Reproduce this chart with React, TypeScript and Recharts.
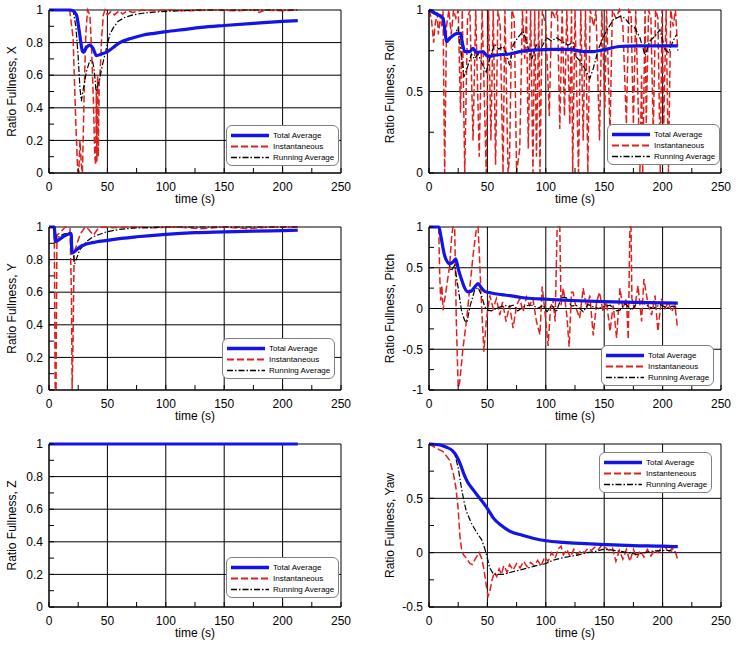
import React from 'react';
import { LineChart, Line, XAxis, YAxis, CartesianGrid, Legend } from 'recharts';

type P = [number, number][];

const FONT = '"Liberation Sans", Arial, sans-serif';

// ---- axis ticks ----
const timeTicks = [0, 25, 50, 75, 100, 125, 150, 175, 200, 225, 250];
const timeMajor = [0, 50, 100, 150, 200, 250];
const ticks01 = [0, 0.1, 0.2, 0.3, 0.4, 0.5, 0.6, 0.7, 0.8, 0.9, 1];
const major01 = [0, 0.2, 0.4, 0.6, 0.8, 1];
const ticksRoll = [0, 0.25, 0.5, 0.75, 1];
const majorRoll = [0, 0.5, 1];
const ticksPitch = [-1, -0.75, -0.5, -0.25, 0, 0.25, 0.5, 0.75, 1];
const majorPitch = [-1, -0.5, 0, 0.5, 1];
const ticksYaw = [-0.5, -0.25, 0, 0.25, 0.5, 0.75, 1];
const majorYaw = [-0.5, 0, 0.5, 1];

const namesStd = ['Total Average', 'Instantaneous', 'Running Average'];
const namesYaw = ['Total Average', 'Instanteneous', 'Running Average'];

// ---- X ----
const xTotal: P = [[0,1],[18,1],[20.6,0.995],[23.5,0.97],[26.3,0.85],[28.5,0.75],[29.5,0.74],[32,0.77],[35,0.785],[37.7,0.765],[40.6,0.72],[45,0.73],[49,0.74],[55,0.77],[60.6,0.8],[70,0.825],[80,0.845],[90,0.857],[100,0.867],[115,0.88],[130,0.893],[150,0.905],[175,0.918],[200,0.93],[213,0.935]];
const xInst: P = [[0,1],[17.7,1],[20.6,0.83],[23,0.3],[24.5,0.02],[25.5,0],[26.5,0.2],[27.7,0.05],[28.6,0],[30,0.45],[31.5,0.85],[33,1],[35,0.97],[36.5,0.75],[38,0.45],[39.2,0.1],[40,0.05],[40.5,0.5],[41,0.07],[41.6,0.6],[42.2,0.1],[43,0.55],[44,0.65],[45,0.82],[46.5,0.97],[48,1],[50,0.97],[53,0.99],[56,0.97],[60,0.995],[63,0.975],[67,0.995],[72,0.985],[80,1],[90,0.995],[100,1],[120,0.995],[140,1],[160,0.995],[175,1],[180,0.985],[185,1],[200,0.995],[213,1]];
const xRun: P = [[0,1],[20.6,1],[23,0.9],[24.9,0.72],[26.5,0.52],[27.7,0.44],[29,0.5],[32,0.62],[34.9,0.69],[37.2,0.69],[38.6,0.64],[40.3,0.5],[43.4,0.58],[46.3,0.68],[49,0.76],[52,0.85],[55,0.89],[59,0.93],[65,0.955],[72,0.97],[80,0.98],[95,0.99],[110,0.995],[130,1],[213,1]];

// ---- Roll ----
const rollTotal: P = [[0,1],[5,0.98],[12,0.95],[13.5,0.88],[14.9,0.806],[17.7,0.827],[24.9,0.857],[27,0.857],[28.5,0.8],[30.6,0.745],[35,0.745],[37.7,0.765],[40.6,0.739],[46,0.745],[50.6,0.714],[57.7,0.724],[69,0.73],[77.7,0.745],[92,0.755],[106,0.759],[120.6,0.759],[132,0.745],[140.6,0.745],[149,0.755],[163,0.776],[177.7,0.78],[192,0.78],[213,0.78]];
const rollInst: P = [[0,1],[2,0.95],[4,0.8],[5,0.9],[7,0.98],[8,0.85],[10,0.97],[11,0.9],[12,1],[13.4,0],[15,0.9],[17,1],[19,0.85],[21,1],[23,0.95],[25,1],[27,0.37],[28.5,1],[30.6,0],[33,0.95],[35,1],[37.7,0.2],[40,1],[43,0.1],[45.5,1],[49,0],[51,1],[53,0.2],[55,1],[57,0.05],[59,1],[61,0.9],[63.4,0],[65,1],[67.7,0],[69,0.1],[71,1],[73,0.95],[75,0],[77.7,0.15],[80,1],[82,0.7],[83.5,1],[85,0.15],[87,1],[89,0],[90.5,1],[92,0.1],[94,1],[95,0],[97,1],[100,0.9],[103,0.35],[105,1],[108,0.95],[110,1],[112,0.27],[114,1],[116,0.35],[118,1],[120.6,0.3],[122,1],[123,0],[125,1],[128,0],[130,1],[132,0.2],[134,1],[136,0],[138,1],[141,0.9],[143,1],[146,0.2],[148,1],[150.6,0.4],[152,1],[155,0.25],[157,1],[160,0.95],[163,1],[166,0.9],[169,0.3],[171,1],[173,0.98],[175,0.3],[177,1],[180.6,0],[182,0.6],[183,0],[185,1],[186,0.3],[188,1],[190,0.95],[192,0.25],[194,1],[196,0.95],[198,0],[199.5,1],[201,0.3],[203,1],[205,0],[207,1],[209,0.9],[211,1],[213,0.75]];
const rollRun: P = [[0,1],[7.7,0.98],[12,0.95],[14.9,0.81],[17.7,0.82],[22,0.85],[24.9,0.89],[27.7,0.72],[30,0.59],[33.4,0.66],[36.3,0.73],[39,0.7],[42,0.73],[44.9,0.68],[49,0.62],[52,0.7],[56,0.79],[59.7,0.76],[63.4,0.775],[66,0.74],[69,0.66],[72,0.785],[76,0.83],[80.6,0.87],[83.4,0.81],[86,0.74],[88,0.7],[92,0.785],[96,0.765],[100.6,0.83],[105,0.81],[109,0.83],[113.4,0.81],[119,0.785],[123.4,0.8],[125,0.72],[129,0.69],[133.5,0.64],[137.7,0.58],[140.6,0.64],[145,0.76],[149,0.83],[153.5,0.89],[157.7,0.94],[163.5,0.96],[167.7,0.95],[172,0.91],[176.3,0.89],[180.6,0.83],[185,0.72],[189,0.81],[193.5,0.84],[197.7,0.88],[202,0.76],[205,0.74],[209,0.81],[212,0.85]];

// ---- Y ----
const yTotal: P = [[0,1],[4.5,1],[5.5,0.91],[7,0.915],[12,0.94],[19,0.96],[19.6,0.84],[22,0.85],[26,0.875],[32,0.895],[40,0.908],[50,0.918],[62,0.93],[75,0.94],[100,0.955],[125,0.965],[150,0.97],[175,0.975],[200,0.978],[213,0.98]];
const yInst: P = [[0,1],[4.5,1],[5.3,0],[6,0],[6.8,0.95],[10,0.97],[14,1],[18,0.99],[19.2,0.6],[19.8,0],[20.6,0.3],[21.5,0.84],[24,0.9],[27,0.96],[31,1],[34,0.985],[38,0.95],[42,0.99],[45,1],[55,0.995],[70,1],[90,0.995],[110,1],[130,0.99],[150,1],[170,0.99],[190,1],[213,1]];
const yRun: P = [[0,1],[5,1],[6.3,0.93],[12,0.955],[19,0.97],[20.6,0.84],[22,0.775],[26.3,0.86],[32,0.91],[37.7,0.94],[49,0.97],[60,0.985],[72,0.993],[100,1],[213,1]];

// ---- Pitch ----
const pitchTotal: P = [[0,1],[8.5,1],[10,0.9],[13.4,0.65],[17.7,0.55],[20.6,0.57],[22.9,0.61],[25,0.49],[28,0.35],[30.6,0.25],[33.4,0.205],[36.3,0.215],[39,0.26],[42,0.305],[45,0.25],[47.7,0.21],[53.4,0.19],[62,0.17],[70.6,0.155],[79,0.135],[88,0.123],[99,0.115],[110.6,0.105],[122,0.098],[149,0.085],[177.7,0.075],[213,0.065]];
const pitchInst: P = [[0,1],[8.3,1],[9.2,0.4],[10,0.1],[11,0.28],[12,-0.02],[14.9,0.25],[17.7,0.53],[19.5,0.9],[20.5,1],[22,1],[23.4,-0.16],[25,-0.97],[26.3,-0.9],[29,-0.5],[32,-0.16],[34.9,0.25],[37.7,0.65],[40.6,0.98],[42,1],[43,0.7],[45,0.04],[47,-0.53],[49,-0.16],[52,0.16],[55,0],[57.7,0.12],[60.6,-0.08],[63,0.08],[66,-0.16],[69,0.04],[72,-0.24],[75,0.04],[77.7,0.12],[80.6,-0.04],[83.4,0.14],[86,0.04],[89,0.12],[92,-0.16],[95,-0.32],[96.9,0.27],[99,0],[102,-0.46],[104,0],[106,0.12],[108,-0.16],[109.7,0.98],[110.6,1],[112,1],[113,0.04],[115,0.25],[118,-0.08],[120,-0.47],[122,0.2],[123.4,0.2],[126,0],[129,-0.12],[132,0.25],[135,0],[137.7,0.16],[140.6,-0.33],[143.5,0.08],[146,0.2],[149,-0.04],[152,0.08],[155,-0.28],[157.7,0.04],[160.6,-0.36],[163.5,0.25],[166,0],[169,0.12],[170.6,-0.38],[172,1],[173,1],[173.7,0.12],[176,0],[179,0.28],[182,-0.16],[184,0.36],[187.7,0.04],[190.6,-0.08],[193.5,0.16],[196,-0.28],[199,0.12],[202,0],[205,0.08],[207.7,-0.04],[210.6,0.04],[212.6,-0.22]];
const pitchRun: P = [[0,1],[8.5,1],[10,0.9],[13.4,0.61],[17.7,0.53],[19,0.46],[22,0.53],[25,0.25],[28,-0.04],[30.6,-0.15],[32.5,-0.17],[35,0.02],[39,0.22],[42,0.26],[45,0.16],[47.7,0.02],[50.6,-0.02],[53.4,-0.03],[59,0.01],[65,0.04],[68,0.02],[72,0.04],[76,-0.03],[80.6,0.02],[85,0.04],[89,0.04],[93,0],[97.7,0.04],[101,-0.04],[105,0.04],[109,-0.04],[113.4,0.14],[117.7,0.13],[122,0.03],[126,0.04],[132,-0.04],[136,0.05],[140.6,0.02],[145,0],[149,0.02],[155,0.04],[160.6,-0.03],[163.5,-0.02],[167.7,0.06],[173.7,-0.02],[177.7,0.06],[182,0.09],[186,0.04],[192,0],[197.7,0.05],[203.4,0.01],[209,0.03],[212.6,0.01]];

// ---- Z ----
const zTotal: P = [[0,1],[213,1]];
const zInst: P = [[0,1],[213,1]];
const zRun: P = [[0,1],[213,1]];

// ---- Yaw ----
const yawTotal: P = [[0,1],[10,0.99],[15,0.97],[20,0.94],[22,0.915],[25,0.86],[27.7,0.79],[30,0.72],[33,0.65],[37.7,0.58],[42,0.52],[45,0.48],[50.6,0.396],[55,0.32],[62,0.25],[69,0.198],[80,0.16],[90,0.13],[100,0.11],[115,0.095],[130,0.085],[150,0.075],[175,0.065],[200,0.06],[213,0.055]];
const yawInst: P = [[0,1],[5,0.97],[12,0.93],[17.7,0.85],[21,0.72],[23,0.6],[24.9,0.41],[26.5,0.15],[28,0.02],[29.5,-0.02],[32,-0.05],[35,-0.1],[37,-0.11],[40,-0.05],[43,0],[45,-0.05],[47,-0.15],[49,-0.3],[50.6,-0.4],[52,-0.36],[54,-0.25],[56,-0.18],[58,-0.22],[60,-0.15],[62,-0.2],[64,-0.12],[67,-0.18],[69,-0.11],[72,-0.16],[75,-0.1],[78,-0.14],[81,-0.08],[84,-0.13],[87,-0.09],[90,-0.12],[93,-0.07],[96,-0.12],[99,-0.04],[102,-0.08],[105,0],[108,-0.05],[111,0.04],[113,0.06],[115,-0.02],[118,0.03],[121,-0.04],[124,0.03],[127,-0.02],[130,0.02],[133,0],[136,0.04],[139,0.02],[142,0.05],[145,0.03],[148,0.07],[151,0.05],[154,0.02],[157,0.05],[160,-0.08],[163,0.02],[166,-0.06],[169,0.03],[172,-0.08],[175,0.03],[178,-0.05],[181,0.02],[184,-0.04],[187,0.03],[190,-0.03],[193,0.02],[196,0],[199,0.05],[202,0.06],[205,0],[208,0.04],[211,0.01],[213,-0.07]];
const yawRun: P = [[0,1],[10,0.99],[15,0.97],[20,0.94],[22,0.91],[25,0.78],[27.7,0.6],[30,0.47],[32,0.38],[36.3,0.27],[40.6,0.19],[45,0.12],[47.7,0.04],[49.5,-0.03],[52,-0.14],[55.4,-0.2],[63.4,-0.2],[70,-0.18],[77.7,-0.16],[85,-0.14],[92,-0.12],[100,-0.1],[106,-0.07],[113,-0.05],[120.6,-0.035],[128,-0.02],[135,0],[142,0.01],[149,0.03],[156,0.025],[163,0.015],[170,0],[177.7,-0.015],[185,0],[192,0.015],[200,0.02],[206,0.02],[213,0]];

const toPts = (a: P) => a.map(([t, v]) => ({ t, v }));

const STYLES = [
  { stroke: '#1414e6', width: 3.2, dash: undefined as string | undefined },
  { stroke: '#e0201c', width: 1.5, dash: '7 3' },
  { stroke: '#000000', width: 1.2, dash: '6 2 1.5 2' },
];

function LegendBox({ names }: { names: string[] }) {
  return (
    <div
      style={{
        width: 111,
        border: '1px solid #808080',
        borderRadius: 6,
        background: '#fff',
        padding: '4px 0 2px 0',
        fontFamily: FONT,
        fontSize: 8,
        color: '#000',
      }}
    >
      {names.map((n, i) => (
        <div key={i} style={{ display: 'flex', alignItems: 'center', height: 11 }}>
          <svg width={46} height={11} style={{ display: 'block', flex: 'none' }}>
            <line
              x1={4}
              x2={42}
              y1={5.5}
              y2={5.5}
              stroke={STYLES[i].stroke}
              strokeWidth={i === 0 ? 3.5 : STYLES[i].width + 0.3}
              strokeDasharray={STYLES[i].dash}
            />
          </svg>
          <span style={{ lineHeight: '11px', whiteSpace: 'nowrap' }}>{n}</span>
        </div>
      ))}
    </div>
  );
}

type PanelProps = {
  left: number;
  top: number;
  yLabel: string;
  labelOffset: number;
  domain: [number, number];
  ticks: number[];
  major: number[];
  total: P;
  inst: P;
  run: P;
  legendLeft: number;
  legendTop: number;
  names: string[];
};

function Panel(p: PanelProps) {
  const isMajor = (v: number, arr: number[]) => arr.some((m) => Math.abs(m - v) < 1e-9);
  const fmtY = (v: number) => (isMajor(v, p.major) ? String(v) : '');
  const fmtX = (v: number) => (isMajor(v, timeMajor) ? String(v) : '');
  const tickStyle = { fill: '#000', fontSize: 12, fontFamily: FONT };
  return (
    <div style={{ position: 'absolute', left: p.left, top: p.top }}>
      <LineChart width={351} height={209} margin={{ top: 8, right: 10, bottom: 0, left: 0 }}>
        <CartesianGrid stroke="#000" strokeWidth={1} horizontalValues={p.major} verticalValues={timeMajor} />
        <XAxis
          type="number"
          dataKey="t"
          domain={[0, 250]}
          ticks={timeTicks}
          interval={0}
          tickFormatter={fmtX}
          tickSize={-5}
          tickMargin={14}
          height={38}
          axisLine={{ stroke: '#000' }}
          tickLine={{ stroke: '#000' }}
          tick={tickStyle}
          label={{ value: 'time (s)', position: 'insideTop', offset: 21, fill: '#000', fontSize: 12, fontFamily: FONT }}
        />
        <YAxis
          type="number"
          domain={p.domain}
          ticks={p.ticks}
          interval={0}
          tickFormatter={fmtY}
          tickSize={-5}
          tickMargin={11}
          width={49}
          axisLine={{ stroke: '#000' }}
          tickLine={{ stroke: '#000' }}
          tick={tickStyle}
          label={{
            value: p.yLabel,
            angle: -90,
            position: 'insideLeft',
            offset: p.labelOffset,
            style: { textAnchor: 'middle' },
            fill: '#000',
            fontSize: 12,
            fontFamily: FONT,
          }}
        />
        <Line data={toPts(p.inst)} dataKey="v" type="linear" stroke={STYLES[1].stroke} strokeWidth={STYLES[1].width} strokeDasharray={STYLES[1].dash} dot={false} isAnimationActive={false} />
        <Line data={toPts(p.run)} dataKey="v" type="linear" stroke={STYLES[2].stroke} strokeWidth={STYLES[2].width} strokeDasharray={STYLES[2].dash} dot={false} isAnimationActive={false} />
        <Line data={toPts(p.total)} dataKey="v" type="monotone" stroke={STYLES[0].stroke} strokeWidth={STYLES[0].width} dot={false} isAnimationActive={false} />
        <Legend
          verticalAlign="middle"
          align="center"
          layout="horizontal"
          wrapperStyle={{ left: p.legendLeft, top: p.legendTop + 3, width: 113, height: 41 }}
          content={() => <LegendBox names={p.names} />}
        />
      </LineChart>
    </div>
  );
}

export default function App() {
  return (
    <div style={{ position: 'absolute', left: 0, top: 0, width: 736, height: 645, background: '#fff', overflow: 'hidden' }}>
      <Panel left={0} top={2} yLabel="Ratio Fullness, X" labelOffset={12} domain={[0, 1]} ticks={ticks01} major={major01}
        total={xTotal} inst={xInst} run={xRun} legendLeft={226} legendTop={120} names={namesStd} />
      <Panel left={380} top={2} yLabel="Ratio Fullness, Roll" labelOffset={10} domain={[0, 1]} ticks={ticksRoll} major={majorRoll}
        total={rollTotal} inst={rollInst} run={rollRun} legendLeft={227} legendTop={119} names={namesStd} />
      <Panel left={0} top={219} yLabel="Ratio Fullness, Y" labelOffset={12} domain={[0, 1]} ticks={ticks01} major={major01}
        total={yTotal} inst={yInst} run={yRun} legendLeft={222} legendTop={116} names={namesStd} />
      <Panel left={380} top={219} yLabel="Ratio Fullness, Pitch" labelOffset={10} domain={[-1, 1]} ticks={ticksPitch} major={majorPitch}
        total={pitchTotal} inst={pitchInst} run={pitchRun} legendLeft={221} legendTop={123} names={namesStd} />
      <Panel left={0} top={436} yLabel="Ratio Fullness, Z" labelOffset={12} domain={[0, 1]} ticks={ticks01} major={major01}
        total={zTotal} inst={zInst} run={zRun} legendLeft={226} legendTop={118} names={namesStd} />
      <Panel left={380} top={436} yLabel="Ratio Fullness, Yaw" labelOffset={10} domain={[-0.5, 1]} ticks={ticksYaw} major={majorYaw}
        total={yawTotal} inst={yawInst} run={yawRun} legendLeft={219} legendTop={13} names={namesYaw} />
    </div>
  );
}
